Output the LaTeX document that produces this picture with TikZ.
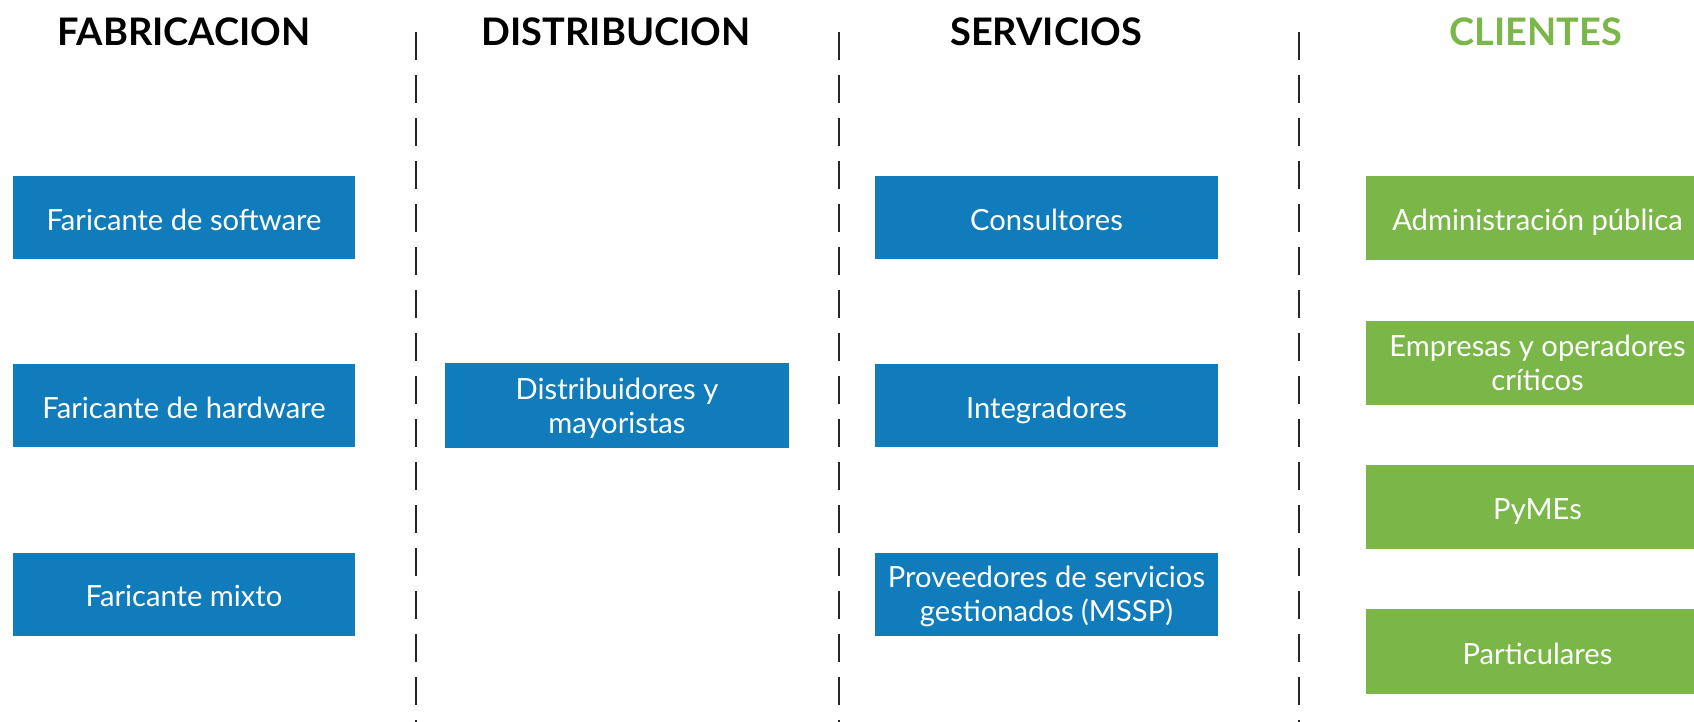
\documentclass[tikz,border=0pt]{standalone}
\usepackage{fontspec}
\setmainfont{Lato}
\definecolor{boxblue}{RGB}{16,124,188}
\definecolor{boxgreen}{RGB}{122,182,72}
\begin{document}
\begin{tikzpicture}[
    header/.style={font=\fontsize{10.8}{13}\selectfont\bfseries, anchor=center},
    actor/.style={rectangle, fill=boxblue, text=white, minimum width=3.43cm, minimum height=0.83cm,
        align=center, inner sep=0pt, text height=0.72em, text depth=0pt, font=\fontsize{8.3}{9.6}\selectfont},
    twoline/.style={text height=, text depth=-0.06cm},
    client/.style={actor, fill=boxgreen},
    divider/.style={black!85, line width=0.6pt, dash pattern=on 0.28cm off 0.15cm}
]
    \useasboundingbox (0,0) rectangle (16.94,-7.21);

    \node[header] (fab) at (1.84,-0.32) {FABRICACION};
    \node[header] (dis) at (6.16,-0.32) {DISTRIBUCION};
    \node[header] (ser) at (10.46,-0.32) {SERVICIOS};
    \node[header, text=boxgreen] (cli) at (15.36,-0.32) {CLIENTES};

    \coordinate (d1t) at (4.16,-0.32);
    \coordinate (d1b) at (4.16,-7.25);
    \coordinate (d2t) at (8.39,-0.32);
    \coordinate (d2b) at (8.39,-7.25);
    \coordinate (d3t) at (12.99,-0.32);
    \coordinate (d3b) at (12.99,-7.25);
    \draw[divider] (d1t) -- (d1b);
    \draw[divider] (d2t) -- (d2b);
    \draw[divider] (d3t) -- (d3b);

    \node[actor, minimum width=3.42cm] (soft) at (1.84,-2.175) {Faricante de software};
    \node[actor, minimum width=3.42cm] (hard) at (1.84,-4.055) {Faricante de hardware};
    \node[actor, minimum width=3.42cm] (mixt) at (1.84,-5.94) {Faricante mixto};

    \node[actor, twoline, minimum width=3.44cm, minimum height=0.85cm] (mayo) at (6.17,-4.055) {Distribuidores y\\mayoristas};

    \node[actor] (cons) at (10.465,-2.175) {Consultores};
    \node[actor] (inte) at (10.465,-4.055) {Integradores};
    \node[actor, twoline] (mssp) at (10.465,-5.94) {Proveedores de servicios\\gestionados (MSSP)};

    \node[client, minimum height=0.84cm] (admi) at (15.375,-2.18) {Administración pública};
    \node[client, twoline, minimum height=0.84cm] (empr) at (15.375,-3.63) {Empresas y operadores\\críticos};
    \node[client, minimum height=0.84cm] (pyme) at (15.375,-5.07) {PyMEs};
    \node[client, minimum height=0.85cm] (part) at (15.375,-6.515) {Particulares};
\end{tikzpicture}
\end{document}
